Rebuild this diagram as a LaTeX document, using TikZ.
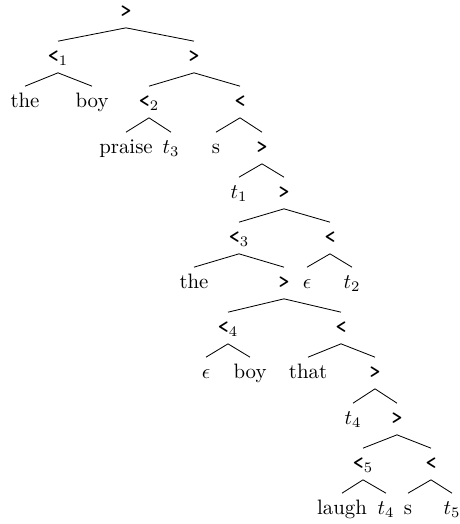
\documentclass[tikz,border=0pt]{standalone}
\usepackage{amsmath,amssymb}
\usepackage{tikz}
\usetikzlibrary{positioning}
\newcommand{\opR}{\texttt{\textbf{>}}}
\newcommand{\opL}{\texttt{\textbf{<}}}

\begin{document}
\begin{tikzpicture}[x=0.48pt,y=-0.48pt,
  nd/.style={anchor=base,inner sep=1pt,text height=8.8pt,text depth=4pt,font=\normalsize},
  br/.style={line width=0.4pt}]
  \useasboundingbox (0,0) rectangle (460,524);
  % row 0-3
  \node[nd] (g0) at (126,17) {\opR};
  \node[nd] (l1) at (58,62) {\opL$_1$};
  \node[nd] (g1) at (194,62) {\opR};
  \node[nd] (the1) at (25,107) {the};
  \node[nd] (boy1) at (92,107) {boy};
  \node[nd] (l2) at (149,107) {\opL$_2$};
  \node[nd] (a1) at (240,107) {\opL};
  \node[nd] (praise) at (126,153) {praise};
  \node[nd] (tt3) at (171,153) {$t_3$};
  \node[nd] (s1) at (216,153) {s};
  \node[nd] (g2) at (262,153) {\opR};
  % row 4-7
  \node[nd] (tt1) at (239,198) {$t_1$};
  \node[nd] (g3) at (284,198) {\opR};
  \node[nd] (l3) at (239,243) {\opL$_3$};
  \node[nd] (a2) at (330,243) {\opL};
  \node[nd] (the2) at (194,288) {the};
  \node[nd] (g4) at (284,288) {\opR};
  \node[nd] (eps1) at (307,288) {$\epsilon$};
  \node[nd] (tt2) at (352,288) {$t_2$};
  \node[nd] (l4) at (228,333) {\opL$_4$};
  \node[nd] (a3) at (341,333) {\opL};
  % row 8-11
  \node[nd] (eps2) at (206,378) {$\epsilon$};
  \node[nd] (boy2) at (250,378) {boy};
  \node[nd] (that) at (308,378) {that};
  \node[nd] (g5) at (375,378) {\opR};
  \node[nd] (tt4) at (353,424) {$t_4$};
  \node[nd] (g6) at (397,424) {\opR};
  \node[nd] (l5) at (363,469) {\opL$_5$};
  \node[nd] (a4) at (431,469) {\opL};
  \node[nd] (laugh) at (342,514) {laugh};
  \node[nd] (tt4b) at (386,514) {$t_4$};
  \node[nd] (s2) at (408,514) {s};
  \node[nd] (tt5) at (452,514) {$t_5$};
  \foreach \a/\b in {g0/l1,g0/g1,l1/the1,l1/boy1,g1/l2,g1/a1,l2/praise,l2/tt3,a1/s1,a1/g2,
    g2/tt1,g2/g3,g3/l3,g3/a2,l3/the2,l3/g4,a2/eps1,a2/tt2,g4/l4,g4/a3,l4/eps2,l4/boy2,
    a3/that,a3/g5,g5/tt4,g5/g6,g6/l5,g6/a4,l5/laugh,l5/tt4b,a4/s2,a4/tt5}
    \draw[br] (\a.south) -- (\b.north);
\end{tikzpicture}
\end{document}
